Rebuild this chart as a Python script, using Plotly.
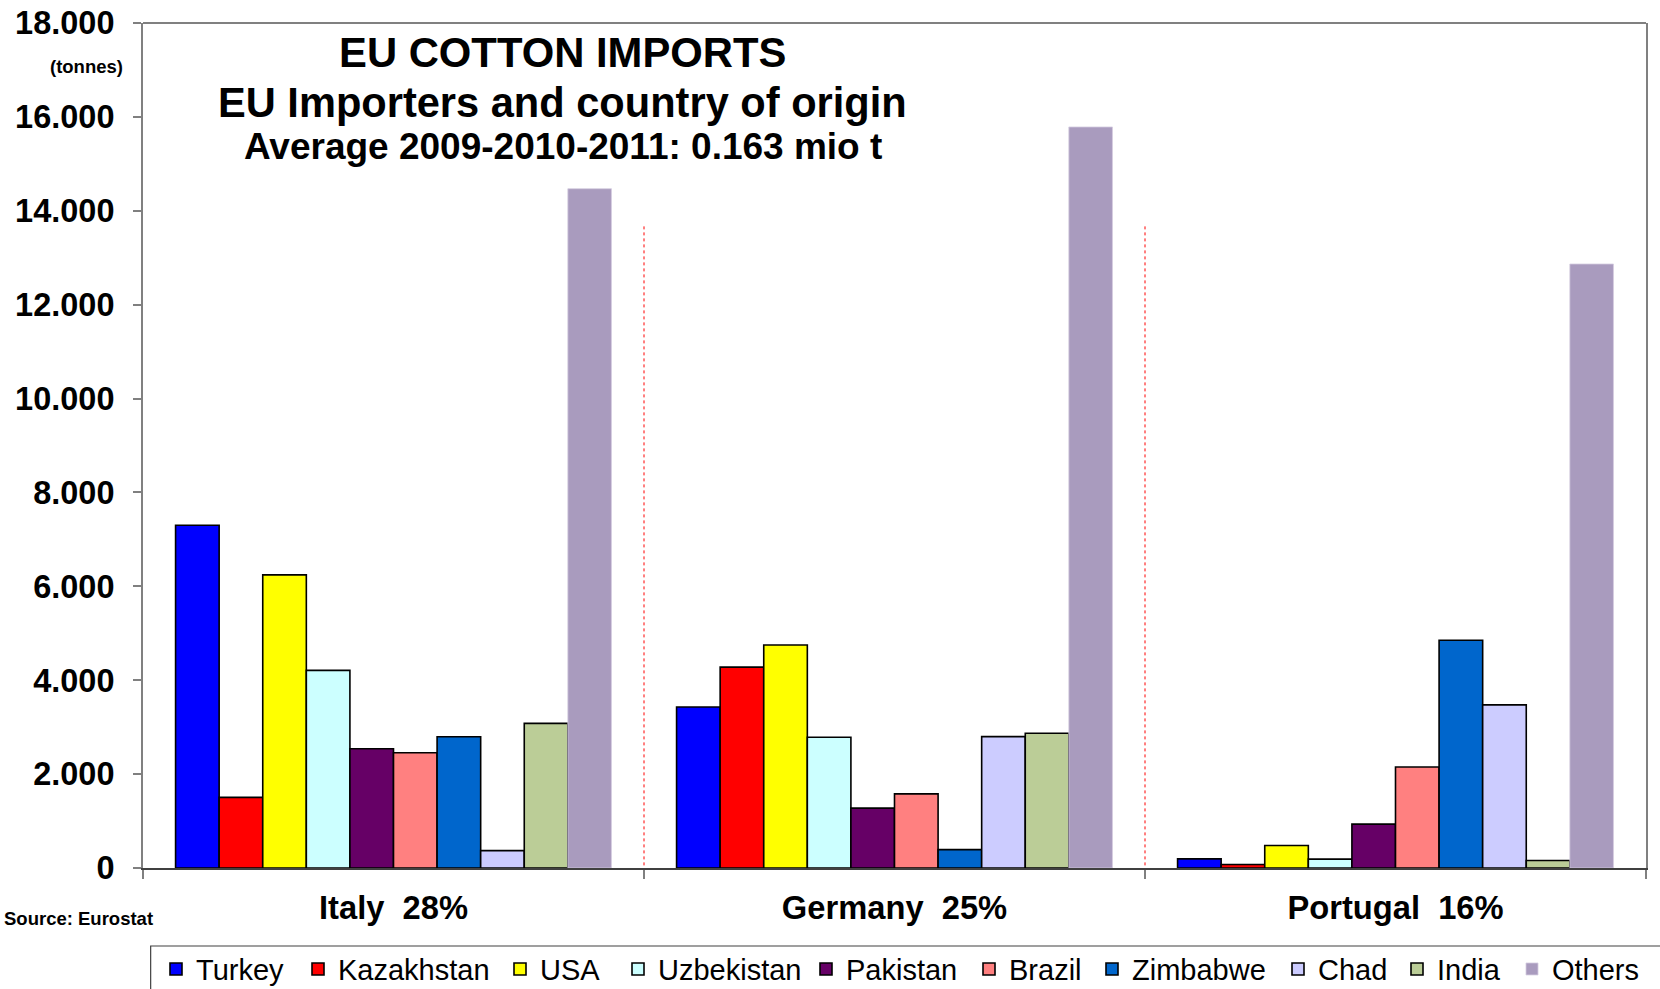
import plotly.graph_objects as go

categories = ["Italy\u00a0\u00a028%", "Germany\u00a0\u00a025%", "Portugal\u00a0\u00a016%"]
origins = ["Turkey", "Kazakhstan", "USA", "Uzbekistan", "Pakistan",
           "Brazil", "Zimbabwe", "Chad", "India", "Others"]

italy = [7300, 1505, 6245, 4210, 2540, 2455, 2795, 370, 3080, 14470]
germany = [3430, 4280, 4750, 2785, 1275, 1578, 392, 2798, 2870, 15785]
portugal = [195, 75, 478, 188, 935, 2152, 4850, 3475, 160, 12866]

colors = ["#0000FF", "#FF0000", "#FFFF00", "#CCFFFF", "#660066",
          "#FF8080", "#0066CC", "#CCCCFF", "#BBCD97", "#A99BBE"]
legend_widths = [97, 157, 73, 143, 118, 78, 141, 74, 70, 88]

y_tickvals = [0, 2000, 4000, 6000, 8000, 10000, 12000, 14000, 16000, 18000]
y_ticktext = ["0", "2.000", "4.000", "6.000", "8.000", "10.000",
              "12.000", "14.000", "16.000", "18.000"]

FONT = "Liberation Sans, Arial, sans-serif"

fig = go.Figure()
for i, name in enumerate(origins):
    vals = [italy[i], germany[i], portugal[i]]
    is_other = name == "Others"
    fig.add_trace(go.Bar(
        name=name,
        x=categories,
        y=vals,
        marker=dict(color=colors[i],
                    line=dict(color="#D4CCE0" if is_other else "#000000",
                              width=0.8 if is_other else 1.6)),
        legendwidth=legend_widths[i],
        hoverinfo="x+y+name",
    ))

fig.update_layout(
    width=1660, height=989,
    margin=dict(l=143, r=14, t=23, b=121, autoexpand=False),
    paper_bgcolor="white", plot_bgcolor="white",
    barmode="group", bargap=0.13, bargroupgap=0,
    font=dict(family=FONT, color="black"),
    showlegend=True,
    legend=dict(orientation="h", x=0.00865, xanchor="left",
                y=-0.0895, yanchor="top", borderwidth=0,
                bgcolor="rgba(0,0,0,0)",
                font=dict(family=FONT, size=29, color="black"),
                traceorder="normal"),
)

fig.update_yaxes(
    range=[0, 18000], tickvals=y_tickvals, ticktext=y_ticktext,
    showgrid=False, zeroline=False,
    showline=True, linecolor="#808080", linewidth=2, mirror=True,
    ticks="outside", ticklen=8, tickcolor="#808080", tickwidth=1.5,
    ticklabelstandoff=12,
    tickfont=dict(family=FONT, size=32.5, color="black", weight="bold"),
)
fig.update_xaxes(
    showgrid=False, zeroline=False,
    showline=True, linecolor="#404040", linewidth=1.5,
    ticks="outside", tickson="boundaries", ticklen=9, tickcolor="#808080", tickwidth=1.5,
    tickfont=dict(family=FONT, size=32.7, color="black", weight="bold"),
    ticklabelstandoff=10,
)

# plot top border
fig.add_shape(type="line", xref="paper", yref="paper", x0=0, x1=1, y0=1, y1=1,
              line=dict(color="#808080", width=2))
# red dotted dividers between countries
for xb in [0.5, 1.5]:
    fig.add_shape(type="line", xref="x", yref="y", x0=xb, x1=xb, y0=-200, y1=13700,
                  line=dict(color="#FF0000", width=1, dash="dot"))
# legend box
fig.add_shape(type="rect", xref="paper", yref="paper", x0=0.0051, x1=1.05,
              y0=-0.0923, y1=-0.3, line=dict(color="#404040", width=1.2),
              fillcolor="rgba(0,0,0,0)")

fig.add_annotation(text="EU COTTON IMPORTS", xref="paper", yref="paper",
                   x=0.2794, y=0.9645, xanchor="center", yanchor="middle",
                   showarrow=False, font=dict(family=FONT, size=41.8, weight="bold"))
fig.add_annotation(text="EU Importers and country of origin", xref="paper", yref="paper",
                   x=0.2794, y=0.9065, xanchor="center", yanchor="middle",
                   showarrow=False, font=dict(family=FONT, size=41.6, weight="bold"))
fig.add_annotation(text="Average 2009-2010-2011: 0.163 mio t", xref="paper", yref="paper",
                   x=0.2794, y=0.8544, xanchor="center", yanchor="middle",
                   showarrow=False, font=dict(family=FONT, size=37, weight="bold"))
fig.add_annotation(text="(tonnes)", xref="paper", yref="paper",
                   x=-0.0373, y=0.949, xanchor="center", yanchor="middle",
                   showarrow=False, font=dict(family=FONT, size=18.5, weight="bold"))
fig.add_annotation(text="Source: Eurostat", xref="paper", yref="paper",
                   x=-0.0938, y=-0.0592, xanchor="left", yanchor="middle",
                   showarrow=False, font=dict(family=FONT, size=18.5, weight="bold"))

fig.write_html("out.html",
               config={"displayModeBar": False},
               post_script="document.body.style.margin='0';document.body.style.overflow='hidden';")
